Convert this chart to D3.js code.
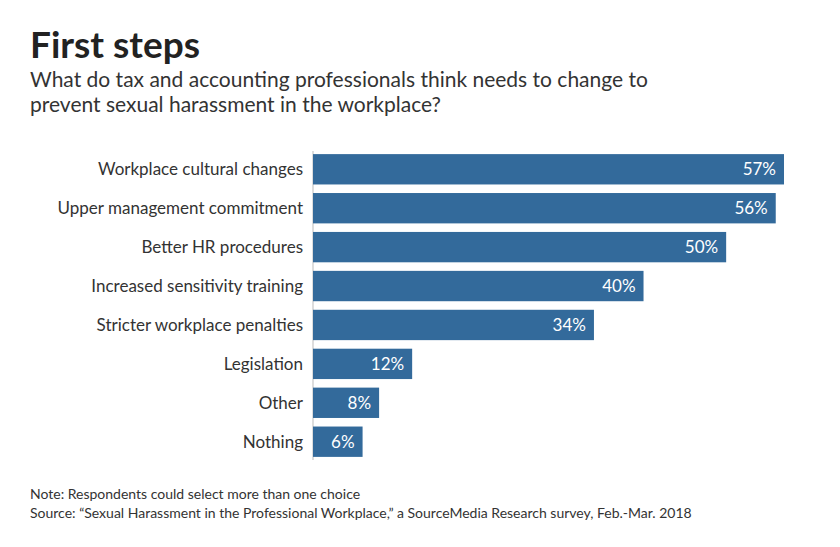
<!DOCTYPE html>
<html><head><meta charset="utf-8">
<script src="https://cdn.jsdelivr.net/npm/d3@7"></script>
<style>body{margin:0;background:#fff;font-family:Lato,"Noto Sans",sans-serif;}</style>
</head><body><div id="chart"></div>
<script>
const categories = ['Workplace cultural changes', 'Upper management commitment', 'Better HR procedures',
  'Increased sensitivity training', 'Stricter workplace penalties', 'Legislation', 'Other', 'Nothing'];
const values = [57, 56, 50, 40, 34, 12, 8, 6];

const svg = d3.select('#chart').append('svg').attr('width', 840).attr('height', 547);

svg.append('text').attr('x', 30).attr('y', 58).text('First steps')
  .style('font-size', '37px').style('font-weight', 'bold').style('fill', '#222');
svg.append('text').attr('x', 30).attr('y', 87)
  .text('What do tax and accounting professionals think needs to change to')
  .style('font-size', '21px').style('fill', '#333');
svg.append('text').attr('x', 30).attr('y', 112)
  .text('prevent sexual harassment in the workplace?')
  .style('font-size', '21px').style('fill', '#333');

const x = d3.scaleLinear().domain([0, 57]).range([313, 784]);
const y = d3.scaleBand().domain(categories).range([151, 460]).paddingInner(0.22).paddingOuter(0.08);

svg.append('line').attr('x1', 313).attr('x2', 313).attr('y1', 151).attr('y2', 460)
  .style('stroke', '#bbb');

svg.selectAll('.bar').data(values).enter().append('rect')
  .attr('x', x(0)).attr('y', (d, i) => y(categories[i]))
  .attr('width', d => x(d) - x(0)).attr('height', y.bandwidth())
  .style('fill', '#336a9b');

svg.selectAll('.val').data(values).enter().append('text')
  .attr('x', d => x(d) - 8).attr('y', (d, i) => y(categories[i]) + y.bandwidth() / 2 + 6)
  .attr('text-anchor', 'end').style('fill', '#fff').style('font-size', '17px')
  .text(d => d + '%');

svg.selectAll('.cat').data(categories).enter().append('text')
  .attr('x', 303).attr('y', d => y(d) + y.bandwidth() / 2 + 6)
  .attr('text-anchor', 'end').style('fill', '#333').style('font-size', '17px')
  .text(d => d);

svg.append('text').attr('x', 30).attr('y', 499).text('Note: Respondents could select more than one choice')
  .style('font-size', '14px').style('fill', '#333');
svg.append('text').attr('x', 30).attr('y', 518)
  .text('Source: “Sexual Harassment in the Professional Workplace,” a SourceMedia Research survey, Feb.-Mar. 2018')
  .style('font-size', '14px').style('fill', '#333');
</script></body></html>
